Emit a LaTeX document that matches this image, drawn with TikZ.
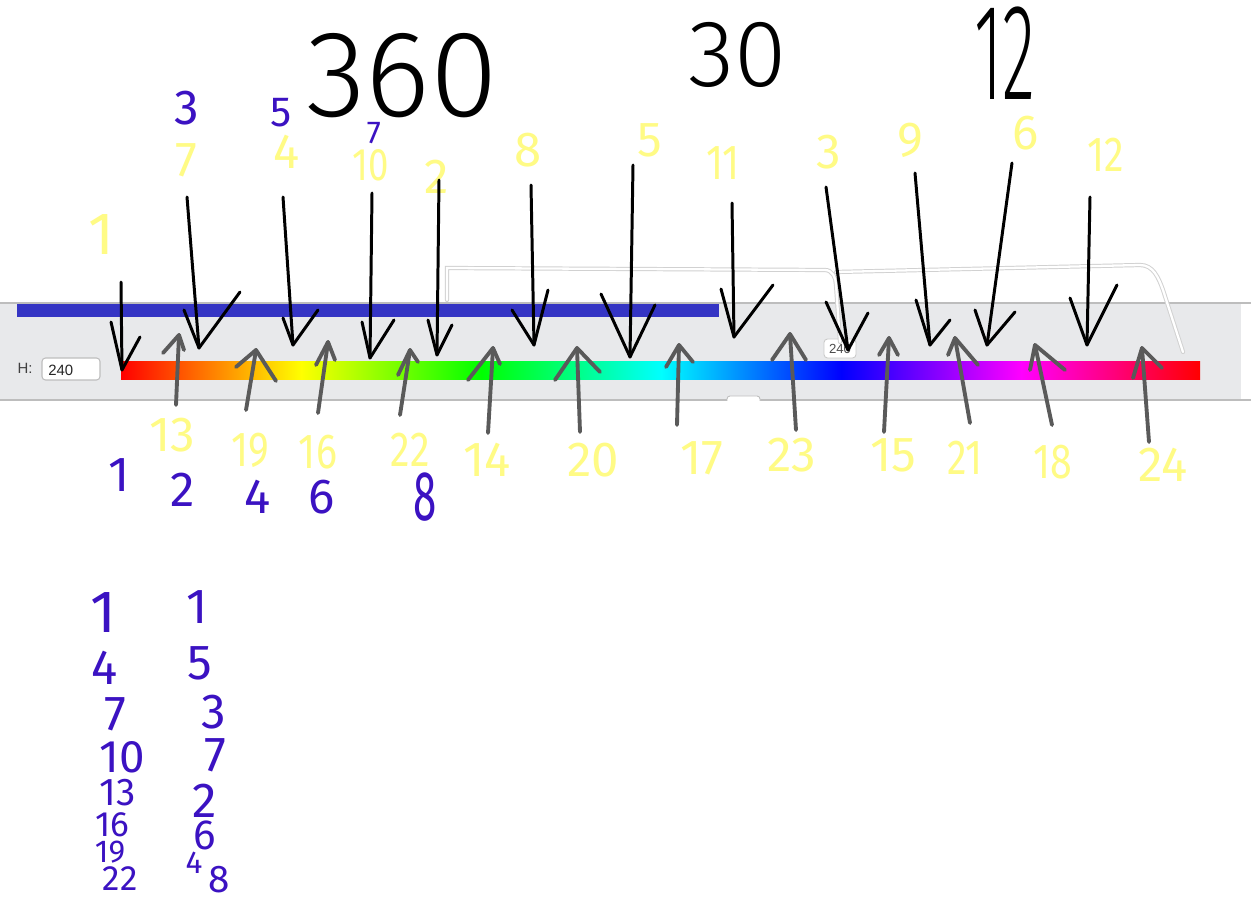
\documentclass[tikz,border=0pt]{standalone}
\usepackage{fontspec}
\setmainfont{Liberation Sans}
\newfontfamily\hand{Fira Sans}
\newfontfamily\handthin{Fira Sans Light}
\definecolor{ylw}{HTML}{FFFB85}
\definecolor{prp}{HTML}{3B12C2}
\definecolor{agray}{HTML}{5A5A5A}
\definecolor{panelc}{HTML}{E8E9EB}
\definecolor{bord}{HTML}{BDBDBD}
\definecolor{hbar}{HTML}{3535C4}
\newcommand\dnarr[8]{\draw[blk] (#1,#2) -- (#3,#4); \draw[blk] (#5,#6) -- (#3,#4) -- (#7,#8);}
\newcommand\uparr[8]{\draw[gry] (#1,#2) -- (#3,#4); \draw[gry] (#5,#6) -- (#3,#4) -- (#7,#8);}
\begin{document}
\begin{tikzpicture}[x=0.02cm,y=-0.02cm,
  blk/.style={draw=black,line width=1.7pt,line cap=round,line join=round},
  gry/.style={draw=agray,line width=2.2pt,line cap=round,line join=round},
  ylab/.style={text=ylw,font=\hand\fontsize{28}{28}\selectfont,inner sep=0pt},
  plab/.style={text=prp,font=\hand\fontsize{28}{28}\selectfont,inner sep=0pt},
  big/.style={text=black,font=\handthin,inner sep=0pt},
  ui/.style={font=\fontsize{8.5}{9}\selectfont,inner sep=0pt}]
\useasboundingbox (0,0) rectangle (1251,905);
\fill[white] (0,0) rectangle (1251,905);
% panel
\fill[panelc] (0,303) rectangle (1241,400);
\draw[bord,line width=0.6pt] (0,303) -- (1251,303);
\draw[bord,line width=0.6pt] (0,400) -- (1251,400);
\fill[hbar] (17,304) rectangle (719,317);
% hue bar
\shade[left color=red,right color=yellow] (121,362) rectangle (301.5,380);
\shade[left color=yellow,right color=green] (301,362) rectangle (481.5,380);
\shade[left color=green,right color=cyan] (481,362) rectangle (661.5,380);
\shade[left color=cyan,right color=blue] (661,362) rectangle (841.5,380);
\shade[left color=blue,right color=magenta] (841,362) rectangle (1021.5,380);
\shade[left color=magenta,right color=red] (1021,362) rectangle (1200,380);
\node[ui,text=black!75] (hl) at (25,368) {H:};
\draw[bord,fill=white,rounded corners=2pt,line width=0.6pt] (42,358) rectangle (100,380);
\node[ui,anchor=west,text=black!85] (hv) at (48,370) {240};
\draw[bord!80,fill=white,rounded corners=2pt,line width=0.5pt] (824,339) rectangle (856,358);
\node[ui,text=black!70,font=\fontsize{7.5}{8}\selectfont] (tt) at (840,349) {240};
\draw[bord,fill=white,line width=0.5pt] (727,401) -- (727,399) to[out=90,in=180] (730,396) -- (757,396) to[out=0,in=90] (760,399) -- (760,401);
% white outline strokes
\draw[black!18,line width=2.4pt,line cap=round] (447,300) -- (447,268) -- (825,270) to[out=0,in=90] (836,285) -- (840,342);
\draw[white,line width=1.3pt,line cap=round] (447,300) -- (447,268) -- (825,270) to[out=0,in=90] (836,285) -- (840,342);
\draw[black!18,line width=2.4pt,line cap=round] (836,272) -- (1140,265) to[out=0,in=110] (1163,290) -- (1183,352);
\draw[white,line width=1.3pt,line cap=round] (836,272) -- (1140,265) to[out=0,in=110] (1163,290) -- (1183,352);
% big black numbers
\node[big,font=\handthin\fontsize{70}{70}\selectfont] (n360) at (402,76) {360};
\node[big,font=\handthin\fontsize{54}{54}\selectfont] (n30) at (738,55) {30};
\node[big,font=\handthin\fontsize{78}{78}\selectfont] (n12) at (1005,53) {\scalebox{0.5}[1]{12}};
% purple top
\node[plab] (p3) at (187,108) {3};
\node[plab,font=\hand\fontsize{24}{24}\selectfont] (p5) at (281,113) {5};
\node[plab,font=\hand\fontsize{18}{18}\selectfont] (p7) at (374,133) {7};
% yellow top labels
\node[ylab,font=\hand\fontsize{34}{34}\selectfont] (y1) at (101,235) {1};
\node[ylab] (y7) at (186,160) {7};
\node[ylab] (y4) at (287,152) {4};
\node[ylab,font=\hand\fontsize{26}{26}\selectfont] (y10) at (371,165) {\scalebox{0.8}[1]{10}};
\node[ylab] (y2) at (437,177) {2};
\node[ylab] (y8) at (528,150) {8};
\node[ylab] (y5) at (650,140) {5};
\node[ylab] (y11) at (723,163) {\scalebox{0.8}[1]{11}};
\node[ylab] (y3) at (829,152) {3};
\node[ylab] (y9) at (910,140) {9};
\node[ylab] (y6) at (1026,133) {6};
\node[ylab] (y12) at (1106,155) {\scalebox{0.8}[1]{12}};
% yellow bottom labels
\node[ylab] (y13) at (172,435) {13};
\node[ylab] (y19) at (250,450) {\scalebox{0.8}[1]{19}};
\node[ylab] (y16) at (318,452) {\scalebox{0.8}[1]{16}};
\node[ylab] (y22) at (410,450) {\scalebox{0.8}[1]{22}};
\node[ylab] (y14) at (487,460) {14};
\node[ylab] (y20) at (593,460) {20};
\node[ylab] (y17) at (702,458) {17};
\node[ylab] (y23) at (792,455) {23};
\node[ylab] (y15) at (893,455) {15};
\node[ylab] (y21) at (965,458) {\scalebox{0.8}[1]{21}};
\node[ylab] (y18) at (1053,462) {\scalebox{0.8}[1]{18}};
\node[ylab] (y24) at (1163,465) {24};
% purple bottom row
\node[plab] (q1) at (119,475) {1};
\node[plab] (q2) at (183,490) {2};
\node[plab] (q4) at (258,497) {4};
\node[plab] (q6) at (322,497) {6};
\node[plab,font=\hand\fontsize{40}{40}\selectfont] (q8) at (425,497) {\scalebox{0.6}[1]{8}};
% purple left column
\node[plab,font=\hand\fontsize{34}{34}\selectfont] (c1) at (103,613) {1};
\node[plab] (c4) at (105,668) {4};
\node[plab] (c7) at (115,714) {7};
\node[plab,font=\hand\fontsize{26}{26}\selectfont] (c10) at (122,757) {10};
\node[plab,font=\hand\fontsize{22}{22}\selectfont] (c13) at (118,793) {13};
\node[plab,font=\hand\fontsize{20}{20}\selectfont] (c16) at (112,825) {16};
\node[plab,font=\hand\fontsize{18}{18}\selectfont] (c19) at (110,852) {19};
\node[plab,font=\hand\fontsize{20}{20}\selectfont] (c22) at (120,879) {22};
% purple right column
\node[plab] (d1) at (197,607) {1};
\node[plab] (d5) at (200,663) {5};
\node[plab] (d3) at (214,712) {3};
\node[plab] (d7) at (215,755) {7};
\node[plab] (d2) at (205,801) {2};
\node[plab,font=\hand\fontsize{24}{24}\selectfont] (d6) at (205,835) {6};
\node[plab,font=\hand\fontsize{18}{18}\selectfont] (d4) at (194,863) {4};
\node[plab,font=\hand\fontsize{22}{22}\selectfont] (d8) at (219,880) {8};
% black down arrows: start, tip, left arm, right arm
\dnarr{121}{282}{122}{370}{111}{322}{140}{337}
\dnarr{187}{197}{199}{348}{184}{310}{240}{292}
\dnarr{283}{197}{293}{345}{283}{318}{318}{310}
\dnarr{372}{193}{370}{358}{362}{322}{394}{320}
\dnarr{439}{180}{437}{355}{428}{320}{452}{325}
\dnarr{531}{185}{534}{345}{512}{310}{548}{290}
\dnarr{633}{165}{630}{357}{601}{294}{655}{305}
\dnarr{732}{203}{734}{337}{721}{289}{773}{285}
\dnarr{826}{187}{848}{350}{826}{302}{868}{313}
\dnarr{915}{173}{930}{345}{916}{300}{950}{320}
\dnarr{1012}{163}{987}{345}{975}{310}{1015}{312}
\dnarr{1090}{197}{1087}{345}{1070}{298}{1117}{285}
% gray up arrows: start, tip, left arm, right arm
\uparr{176}{405}{179}{335}{163}{353}{184}{350}
\uparr{246}{410}{256}{350}{236}{367}{276}{381}
\uparr{318}{413}{328}{342}{316}{365}{335}{360}
\uparr{400}{415}{410}{350}{398}{375}{418}{362}
\uparr{488}{433}{493}{348}{468}{380}{500}{364}
\uparr{580}{432}{577}{348}{555}{380}{600}{372}
\uparr{677}{425}{679}{345}{666}{367}{693}{362}
\uparr{796}{430}{790}{334}{772}{360}{806}{360}
\uparr{884}{432}{889}{338}{879}{355}{898}{355}
\uparr{970}{423}{955}{338}{948}{355}{978}{365}
\uparr{1052}{425}{1035}{345}{1030}{370}{1065}{370}
\uparr{1149}{442}{1142}{348}{1133}{378}{1162}{368}
\end{tikzpicture}
\end{document}
